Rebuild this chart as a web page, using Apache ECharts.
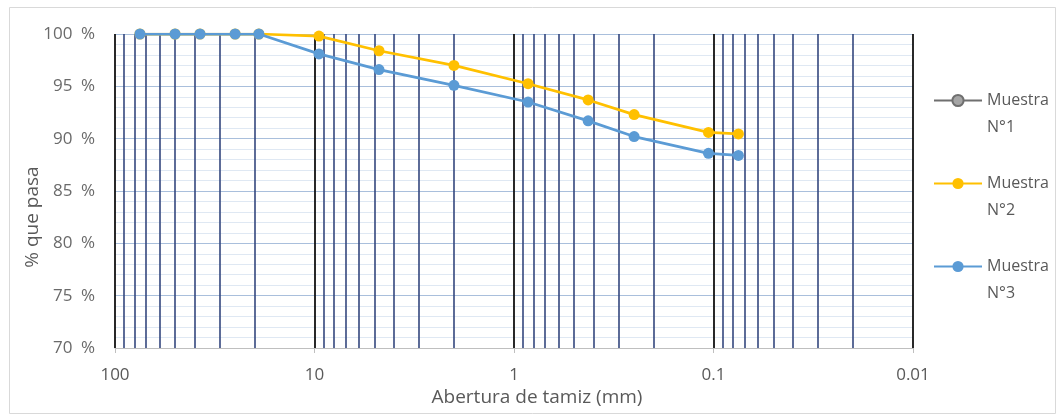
<!DOCTYPE html>
<html>
<head>
<meta charset="utf-8">
<script src="https://cdn.jsdelivr.net/npm/echarts@6/dist/echarts.min.js"></script>
<style>html,body{margin:0;padding:0;background:#fff}#c{width:1062px;height:414px}</style>
</head>
<body>
<div id="c"></div>
<script>
// Sieve openings (mm)
const sizes = [75, 50, 37.5, 25, 19, 9.5, 4.75, 2, 0.85, 0.425, 0.25, 0.106, 0.075];
// % passing
const muestra1 = [];
const muestra2 = [100, 100, 100, 100, 100, 99.8, 98.4, 97.0, 95.25, 93.7, 92.3, 90.6, 90.45];
const muestra3 = [100, 100, 100, 100, 100, 98.1, 96.6, 95.1, 93.5, 91.7, 90.2, 88.6, 88.4];
const seriesNames = ['Muestra N°1', 'Muestra N°2', 'Muestra N°3'];
// log minor grid values (2..9 within each decade)
const minorGrid = [90, 80, 70, 60, 50, 40, 30, 20,
  9, 8, 7, 6, 5, 4, 3, 2,
  0.9, 0.8, 0.7, 0.6, 0.5, 0.4, 0.3, 0.2,
  0.09, 0.08, 0.07, 0.06, 0.05, 0.04, 0.03, 0.02];
const xTickLabels = {100: '100', 10: '10', 1: '1', 0.1: '0.1', 0.01: '0.01'};

const pair = (arr) => arr.map((v, i) => [sizes[i], v]);
const font = "'Open Sans', sans-serif";
const txt = '#595959';

const chart = echarts.init(document.getElementById('c'), null, {renderer: 'canvas'});
chart.setOption({
  backgroundColor: '#ffffff',
  animation: false,
  textStyle: {fontFamily: font},
  graphic: [{
    type: 'rect', left: 7, top: 5, z: -10,
    shape: {width: 1046, height: 406},
    style: {fill: 'none', stroke: '#d9d9d9', lineWidth: 1}
  }],
  grid: {left: 115, right: 149, top: 34, bottom: 66, containLabel: false},
  legend: {
    data: seriesNames,
    orient: 'vertical',
    left: 933, top: 60, padding: 0,
    itemWidth: 48, itemHeight: 14, itemGap: 2,
    formatter: (n) => '\n' + n.replace(' ', '\n'),
    textStyle: {fontSize: 16, color: txt, lineHeight: 27, fontFamily: font}
  },
  xAxis: {
    type: 'log', logBase: 10, min: 0.01, max: 100, inverse: true,
    name: 'Abertura de tamiz (mm)', nameLocation: 'middle', nameGap: 40,
    nameMoveOverlap: false,
    nameTextStyle: {fontSize: 19, color: txt, fontFamily: font, padding: [0, 0, 0, 46]},
    axisLine: {show: true, lineStyle: {color: '#bfbfbf', width: 1}},
    axisTick: {show: true, length: 5, lineStyle: {color: '#bfbfbf'}},
    axisLabel: {fontSize: 17, color: txt, margin: 19, fontFamily: font,
      formatter: (v) => xTickLabels[v] !== undefined ? xTickLabels[v] : String(v)},
    splitLine: {show: true, lineStyle: {color: '#111111', width: 1.8}},
    minorTick: {show: false}, minorSplitLine: {show: false}
  },
  yAxis: {
    type: 'value', min: 70, max: 100, interval: 5,
    name: '% que pasa', nameLocation: 'middle', nameGap: 73,
    nameMoveOverlap: false,
    nameTextStyle: {fontSize: 19, color: txt, fontFamily: font, padding: [0, 52, 0, 0]},
    axisLine: {show: false}, axisTick: {show: false},
    axisLabel: {fontSize: 17, color: '#6a6a6a', margin: 20, fontFamily: font, formatter: '{value}\u2002%'},
    splitLine: {show: true, lineStyle: {color: '#a9bfdc', width: 1}},
    minorTick: {show: false, splitNumber: 5},
    minorSplitLine: {show: true, lineStyle: {color: '#dfe8f3', width: 1}}
  },
  series: [
    {
      name: '__grid', type: 'line', data: [], z: 1, silent: true,
      markLine: {
        silent: true, z: 1, symbol: ['none', 'none'], animation: false,
        label: {show: false},
        lineStyle: {type: 'solid', color: '#34477e', width: 1.6},
        data: minorGrid.map(v => ({xAxis: v}))
      }
    },
    {
      name: seriesNames[0], type: 'line', data: pair(muestra1), z: 3,
      color: '#7f7f7f', symbol: 'circle', symbolSize: 11,
      lineStyle: {width: 2.75, color: '#6f6f6f'},
      itemStyle: {color: '#a5a5a5', borderColor: '#6f6f6f', borderWidth: 1.5}
    },
    {
      name: seriesNames[1], type: 'line', data: pair(muestra2), z: 4,
      color: '#ffc000', symbol: 'circle', symbolSize: 11,
      lineStyle: {width: 2.75, color: '#ffc000'},
      itemStyle: {color: '#ffc000'}
    },
    {
      name: seriesNames[2], type: 'line', data: pair(muestra3), z: 5,
      color: '#5b9bd5', symbol: 'circle', symbolSize: 11,
      lineStyle: {width: 2.75, color: '#5b9bd5'},
      itemStyle: {color: '#5b9bd5'}
    }
  ]
});
</script>
</body>
</html>
